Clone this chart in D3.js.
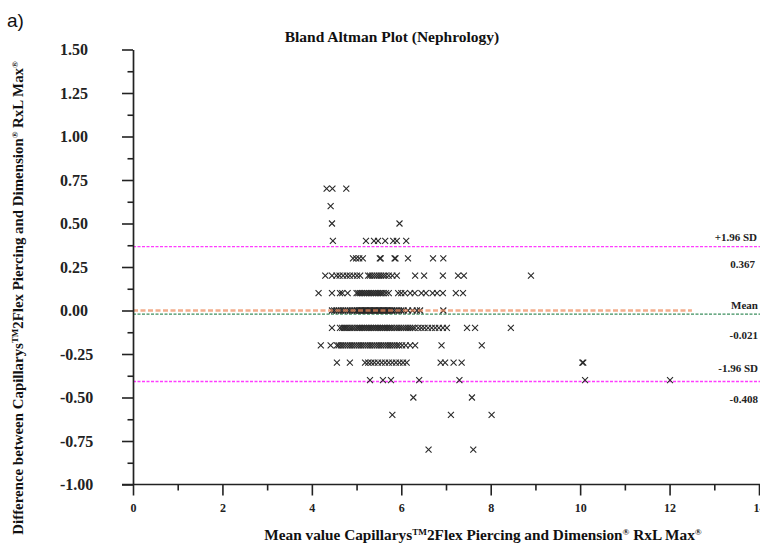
<!DOCTYPE html>
<html>
<head>
<meta charset="utf-8">
<script src="https://cdn.jsdelivr.net/npm/d3@7"></script>
<style>
  html, body { margin: 0; padding: 0; background: #fff; }
  svg { display: block; }
</style>
</head>
<body>
<svg id="chart" width="760" height="552"></svg>
<script>
// ---------------- DATA ----------------
const titleText = "Bland Altman Plot (Nephrology)";
const panelLabel = "a)";
const xTickValues = [0, 2, 4, 6, 8, 10, 12, 14];
const xTickLabels = ["0", "2", "4", "6", "8", "10", "12", "14"];
const xMinorValues = [1, 3, 5, 7, 9, 11, 13];
const yTickValues = [1.5, 1.25, 1.0, 0.75, 0.5, 0.25, 0.0, -0.25, -0.5, -0.75, -1.0];
const yTickLabels = ["1.50", "1.25", "1.00", "0.75", "0.50", "0.25", "0.00", "-0.25", "-0.50", "-0.75", "-1.00"];
const yMinorValues = [1.375, 1.125, 0.875, 0.625, 0.375, 0.125, -0.125, -0.375, -0.625, -0.875];

const meanDiff = -0.021;
const upperLoA = 0.367;
const lowerLoA = -0.408;
const refLabels = ["+1.96 SD", "0.367", "Mean", "-0.021", "-1.96 SD", "-0.408"];

// difference levels (y) and the mean values (x) observed at each level
const diffLevels = [0.7, 0.6, 0.5, 0.4, 0.3, 0.2, 0.1, 0.0, -0.1, -0.2, -0.3, -0.4, -0.5, -0.6, -0.8];
const meansAtLevel = [
  [4.33, 4.46, 4.77],
  [4.42],
  [4.45, 5.96],
  [4.47, 5.21, 5.39, 5.48, 5.64, 5.82, 5.90, 6.11],
  [4.92, 4.99, 5.06, 5.14, 5.52, 5.54, 5.85, 5.87, 6.15, 6.71, 6.94],
  [4.30, 4.45, 4.55, 4.62, 4.70, 4.78, 4.85, 4.93, 5.01, 5.08, 5.26, 5.30, 5.35, 5.40, 5.45, 5.50, 5.55, 5.60, 5.65, 5.72, 5.80, 5.90, 6.31, 6.51, 6.93, 7.27, 7.40, 8.90],
  [4.15, 4.45, 4.63, 4.68, 4.80, 5.00, 5.04, 5.08, 5.12, 5.16, 5.20, 5.24, 5.28, 5.32, 5.36, 5.40, 5.44, 5.48, 5.52, 5.56, 5.60, 5.66, 5.72, 5.93, 6.00, 6.08, 6.20, 6.30, 6.45, 6.55, 6.70, 6.80, 6.93, 7.22, 7.38],
  [4.45, 4.50, 4.55, 4.60, 4.65, 4.70, 4.75, 4.80, 4.85, 4.90, 4.95, 5.00, 5.02, 5.05, 5.08, 5.10, 5.12, 5.15, 5.18, 5.20, 5.22, 5.25, 5.28, 5.30, 5.32, 5.35, 5.38, 5.40, 5.42, 5.45, 5.48, 5.50, 5.52, 5.55, 5.58, 5.60, 5.62, 5.65, 5.68, 5.70, 5.72, 5.75, 5.78, 5.80, 5.85, 5.90, 5.95, 6.00, 6.05, 6.15, 6.25, 6.35, 6.42, 6.94],
  [4.45, 4.63, 4.68, 4.72, 4.76, 4.80, 4.85, 4.90, 4.95, 5.00, 5.04, 5.08, 5.12, 5.16, 5.20, 5.24, 5.28, 5.32, 5.36, 5.40, 5.44, 5.48, 5.52, 5.56, 5.60, 5.64, 5.68, 5.72, 5.76, 5.80, 5.85, 5.90, 5.95, 6.00, 6.05, 6.10, 6.15, 6.20, 6.25, 6.30, 6.38, 6.45, 6.52, 6.60, 6.68, 6.76, 6.84, 6.93, 7.02, 7.47, 7.65, 8.45],
  [4.20, 4.42, 4.56, 4.60, 4.65, 4.70, 4.75, 4.80, 4.85, 4.90, 4.95, 5.00, 5.05, 5.10, 5.15, 5.20, 5.25, 5.30, 5.35, 5.40, 5.45, 5.50, 5.55, 5.60, 5.65, 5.70, 5.75, 5.80, 5.85, 5.90, 5.95, 6.02, 6.10, 6.20, 6.31, 6.90, 7.80],
  [4.56, 4.85, 5.19, 5.26, 5.33, 5.40, 5.48, 5.56, 5.64, 5.72, 5.80, 5.88, 5.96, 6.04, 6.12, 6.88, 6.98, 7.17, 7.35, 10.05, 10.07],
  [5.30, 5.59, 5.77, 6.40, 7.30, 10.11, 12.01],
  [6.27, 7.58],
  [5.80, 7.11, 8.02],
  [6.61, 7.61]
];

// ---------------- CHART ----------------
const svg = d3.select("#chart");
const serif = "'Liberation Serif', 'Times New Roman', serif";

const x = d3.scaleLinear().domain([0, 14]).range([133, 759]);
const y = d3.scaleLinear().domain([-1, 1.5]).range([484.5, 49.5]);

const points = [];
diffLevels.forEach((d, i) => meansAtLevel[i].forEach(m => points.push({ m, d })));

// panel label
svg.append("text").attr("x", 7).attr("y", 27)
  .attr("font-family", "'Liberation Sans', Arial, sans-serif")
  .attr("font-size", 19).attr("fill", "#111").text(panelLabel);

// title
svg.append("text").attr("x", 392).attr("y", 42).attr("text-anchor", "middle")
  .attr("font-family", serif).attr("font-weight", "bold").attr("font-size", 15.5)
  .attr("fill", "#111").text(titleText);

// reference lines (LoA and mean)
const refLine = (val, color, x2, dash, w) =>
  svg.append("line").attr("x1", x(0)).attr("x2", x2)
    .attr("y1", y(val)).attr("y2", y(val))
    .attr("stroke", color).attr("stroke-width", w).attr("stroke-dasharray", dash);

refLine(upperLoA, "#ff3cff", 760, "3,1.5", 1.3);
refLine(lowerLoA, "#ff3cff", 760, "3,1.5", 1.3);
refLine(meanDiff, "#3d8f5f", 760, "3,1.5", 1.2);

// points
svg.append("g").selectAll("path").data(points).join("path")
  .attr("transform", p => `translate(${x(p.m)},${y(p.d)})`)
  .attr("d", "M-3,-3L3,3M-3,3L3,-3")
  .attr("fill", "none").attr("stroke", "#2a2a2a").attr("stroke-width", 1.1);

// zero line (drawn over points)
refLine(0, "#ee8a5c", x(12.5), "5,2.5", 2.6).attr("opacity", 0.7);

// axes
const axisStyle = g => {
  g.select(".domain").attr("stroke", "#222").attr("stroke-width", 1.7);
  g.selectAll(".tick line").attr("stroke", "#222").attr("stroke-width", 1.6);
};

const yAxis = svg.append("g").attr("transform", `translate(${x(0)},0)`)
  .call(d3.axisLeft(y).tickValues(yTickValues).tickSize(11).tickSizeOuter(0)
    .tickFormat((d, i) => yTickLabels[i]));
yAxis.call(axisStyle);
yAxis.selectAll(".tick text")
  .attr("text-anchor", "start").attr("x", 60 - x(0))
  .attr("font-family", serif).attr("font-weight", "bold").attr("font-size", 16)
  .attr("fill", "#222");

const yMinor = svg.append("g").attr("transform", `translate(${x(0)},0)`)
  .call(d3.axisLeft(y).tickValues(yMinorValues).tickSize(5.5).tickFormat(""));
yMinor.select(".domain").remove();
yMinor.selectAll(".tick line").attr("stroke", "#222").attr("stroke-width", 1.6);

const xAxis = svg.append("g").attr("transform", `translate(0,${y(-1)})`)
  .call(d3.axisBottom(x).tickValues(xTickValues).tickSize(11).tickSizeOuter(0)
    .tickPadding(8).tickFormat((d, i) => xTickLabels[i]));
xAxis.call(axisStyle);
xAxis.select(".domain").attr("d", `M${x(0) - 11},0H760`);
xAxis.selectAll(".tick text")
  .attr("font-family", serif).attr("font-weight", "bold").attr("font-size", 12)
  .attr("fill", "#222");

const xMinor = svg.append("g").attr("transform", `translate(0,${y(-1)})`)
  .call(d3.axisBottom(x).tickValues(xMinorValues).tickSize(6).tickFormat(""));
xMinor.select(".domain").remove();
xMinor.selectAll(".tick line").attr("stroke", "#222").attr("stroke-width", 1.6);

// right-hand reference labels
const labelY = [237, 264, 305, 335, 368, 399];
const labelX = [757, 755, 758, 758, 758, 758];
refLabels.forEach((t, i) => {
  svg.append("text").attr("x", labelX[i]).attr("y", labelY[i]).attr("dy", "0.35em")
    .attr("text-anchor", "end").attr("font-family", serif).attr("font-weight", "bold")
    .attr("font-size", 11).attr("fill", "#222").text(t);
});

// axis titles with superscripts
function richTitle(sel, parts) {
  parts.forEach(p => {
    const ts = sel.append("tspan").text(p.t);
    if (p.sup) ts.attr("font-size", "0.6em").attr("baseline-shift", "super");
  });
}
const xTitle = svg.append("text").attr("x", 483).attr("y", 540).attr("text-anchor", "middle")
  .attr("font-family", serif).attr("font-weight", "bold").attr("font-size", 15.3).attr("fill", "#111");
richTitle(xTitle, [
  { t: "Mean value Capillarys" }, { t: "TM", sup: true }, { t: "2Flex  Piercing and Dimension" },
  { t: "®", sup: true }, { t: " RxL Max" }, { t: "®", sup: true }
]);

const yTitle = svg.append("text").attr("transform", "translate(23,298) rotate(-90)")
  .attr("text-anchor", "middle")
  .attr("font-family", serif).attr("font-weight", "bold").attr("font-size", 14.9).attr("fill", "#111");
richTitle(yTitle, [
  { t: "Difference between Capillarys" }, { t: "TM", sup: true }, { t: "2Flex  Piercing and Dimension" },
  { t: "®", sup: true }, { t: " RxL Max" }, { t: "®", sup: true }
]);
</script>
</body>
</html>
